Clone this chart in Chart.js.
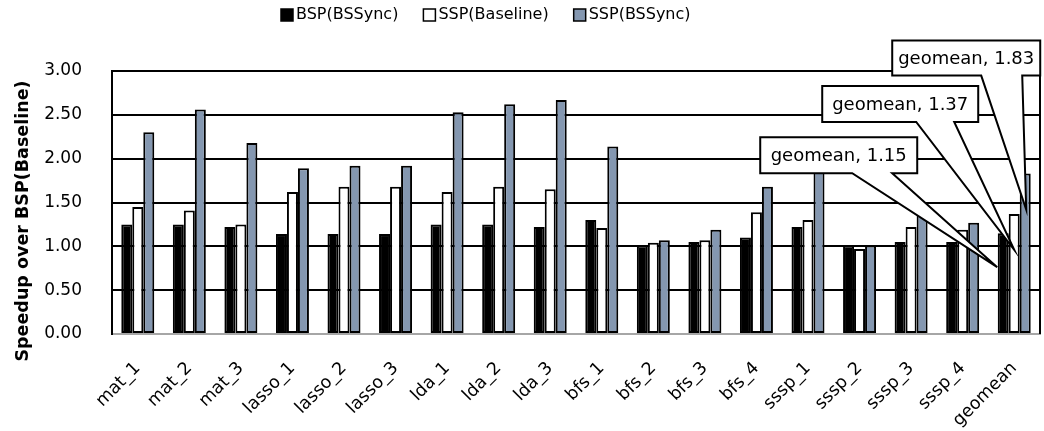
<!DOCTYPE html>
<html>
<head>
<meta charset="utf-8">
<script src="https://cdn.jsdelivr.net/npm/chart.js@4.4.1/dist/chart.umd.min.js"></script>
<style>
  html, body { margin: 0; padding: 0; background: #fff; }
  #wrap { width: 1044px; height: 431px; }
</style>
</head>
<body>
<div id="wrap"><canvas id="chart"></canvas></div>
<script>
// data
const categories = ["mat_1", "mat_2", "mat_3", "lasso_1", "lasso_2", "lasso_3",
  "lda_1", "lda_2", "lda_3", "bfs_1", "bfs_2", "bfs_3", "bfs_4",
  "sssp_1", "sssp_2", "sssp_3", "sssp_4", "geomean"];

const bspBSSync = [1.25, 1.25, 1.22, 1.14, 1.14, 1.14, 1.25, 1.25, 1.22, 1.30,
  1.01, 1.05, 1.10, 1.22, 1.01, 1.05, 1.05, 1.15];
const sspBaseline = [1.45, 1.41, 1.25, 1.62, 1.68, 1.68, 1.62, 1.68, 1.65, 1.21,
  1.04, 1.07, 1.39, 1.30, 0.97, 1.22, 1.19, 1.37];
const sspBSSync = [2.30, 2.56, 2.18, 1.89, 1.92, 1.92, 2.53, 2.62, 2.67, 2.14,
  1.07, 1.19, 1.68, 1.95, 1.01, 1.40, 1.27, 1.83];

const seriesNames = ["BSP(BSSync)", "SSP(Baseline)", "SSP(BSSync)"];
const yTicks = [0, 0.5, 1, 1.5, 2, 2.5, 3];
const yTitle = "Speedup over BSP(Baseline)";

const FONT = "'DejaVu Sans', sans-serif";

// legend + y title drawn by hand so they sit where the original ones are
const legendPlugin = {
  id: "manualLegend",
  afterDraw(chart) {
    const ctx = chart.ctx;
    ctx.save();
    ctx.font = "16px " + FONT;
    ctx.textBaseline = "middle";
    let x = 281;
    const y = 15;
    chart.data.datasets.forEach((ds) => {
      ctx.fillStyle = ds.backgroundColor;
      ctx.fillRect(x, y - 6, 12, 12);
      ctx.lineWidth = 1.5;
      ctx.strokeStyle = "#000";
      ctx.strokeRect(x, y - 6, 12, 12);
      ctx.fillStyle = "#000";
      ctx.fillText(ds.label, x + 15, y);
      x += 15 + ctx.measureText(ds.label).width + 25;
    });

    ctx.translate(23, 221);
    ctx.rotate(-Math.PI / 2);
    ctx.font = "bold 17.5px " + FONT;
    ctx.textAlign = "center";
    ctx.fillText(yTitle, 0, 0);
    ctx.restore();
  },
};

// right frame line + geomean callouts
const calloutPlugin = {
  id: "callouts",
  afterDatasetsDraw(chart) {
    const { ctx, chartArea } = chart;
    ctx.save();
    ctx.strokeStyle = "#000";
    ctx.lineWidth = 2;
    ctx.beginPath();
    ctx.moveTo(chartArea.right, chartArea.top);
    ctx.lineTo(chartArea.right, chartArea.bottom);
    ctx.stroke();

    const last = categories.length - 1;
    // offsets of box / wedge relative to the tip, per series
    const shapes = [
      { tip: [-6, 34], box: [-237, -80, -130, -94], wedge: [-145, -105] },
      { tip: [0, 36], box: [-192, -36, -164, -128], wedge: [-98, -60] },
      { tip: [1, 36], box: [-134, 14, -169, -134], wedge: [-45, -4] },
    ];
    chart.data.datasets.forEach((ds, i) => {
      const el = chart.getDatasetMeta(i).data[last];
      const s = shapes[i];
      const tx = el.x + s.tip[0], ty = el.y + s.tip[1];
      const l = tx + s.box[0], r = tx + s.box[1], t = ty + s.box[2], b = ty + s.box[3];
      ctx.beginPath();
      ctx.moveTo(l, t);
      ctx.lineTo(r, t);
      ctx.lineTo(r, b);
      ctx.lineTo(tx + s.wedge[1], b);
      ctx.lineTo(tx, ty);
      ctx.lineTo(tx + s.wedge[0], b);
      ctx.lineTo(l, b);
      ctx.closePath();
      ctx.fillStyle = "#fff";
      ctx.fill();
      ctx.lineWidth = 2;
      ctx.strokeStyle = "#000";
      ctx.stroke();
      ctx.fillStyle = "#000";
      ctx.font = "18px " + FONT;
      ctx.textAlign = "center";
      ctx.textBaseline = "middle";
      ctx.fillText(categories[last] + ", " + ds.data[last].toFixed(2), (l + r) / 2, (t + b) / 2 + 1);
    });
    ctx.restore();
  },
};

new Chart(document.getElementById("chart"), {
  type: "bar",
  data: {
    labels: categories,
    datasets: [
      { label: seriesNames[0], data: bspBSSync, backgroundColor: "#000000" },
      { label: seriesNames[1], data: sspBaseline, backgroundColor: "#ffffff" },
      { label: seriesNames[2], data: sspBSSync, backgroundColor: "#8497b0" },
    ].map((d) => ({
      ...d,
      borderColor: "#000",
      borderWidth: 2,
      borderSkipped: false,
      barPercentage: 1.0,
      categoryPercentage: 0.64,
    })),
  },
  options: {
    responsive: true,
    maintainAspectRatio: false,
    animation: false,
    devicePixelRatio: 1,
    layout: { padding: { top: 71, right: 4, left: 0, bottom: 0 } },
    plugins: {
      legend: { display: false },
      tooltip: { enabled: false },
    },
    scales: {
      x: {
        grid: { display: false, drawTicks: false },
        border: { color: "#a6a6a6", width: 2 },
        ticks: {
          color: "#000",
          font: { family: FONT, size: 17.5 },
          maxRotation: 45,
          minRotation: 45,
          padding: 24,
          autoSkip: false,
        },
        afterFit(scale) {
          scale.height = 97;
          scale.paddingLeft = 0;
          scale.paddingRight = 0;
        },
      },
      y: {
        min: 0,
        max: 3,
        afterBuildTicks(scale) { scale.ticks = yTicks.map((v) => ({ value: v })); },
        grid: {
          drawTicks: false,
          lineWidth: 2,
          color: (c) => (c.tick && c.tick.value === 0 ? "#a6a6a6" : "#000"),
        },
        border: { color: "#000", width: 2 },
        ticks: {
          color: "#000",
          font: { family: FONT, size: 17 },
          padding: 30,
          callback: (v) => Number(v).toFixed(2),
        },
        afterFit(scale) {
          scale.width = 112;
          scale.paddingTop = 0;
          scale.paddingBottom = 0;
        },
      },
    },
  },
  plugins: [legendPlugin, calloutPlugin],
});
</script>
</body>
</html>
